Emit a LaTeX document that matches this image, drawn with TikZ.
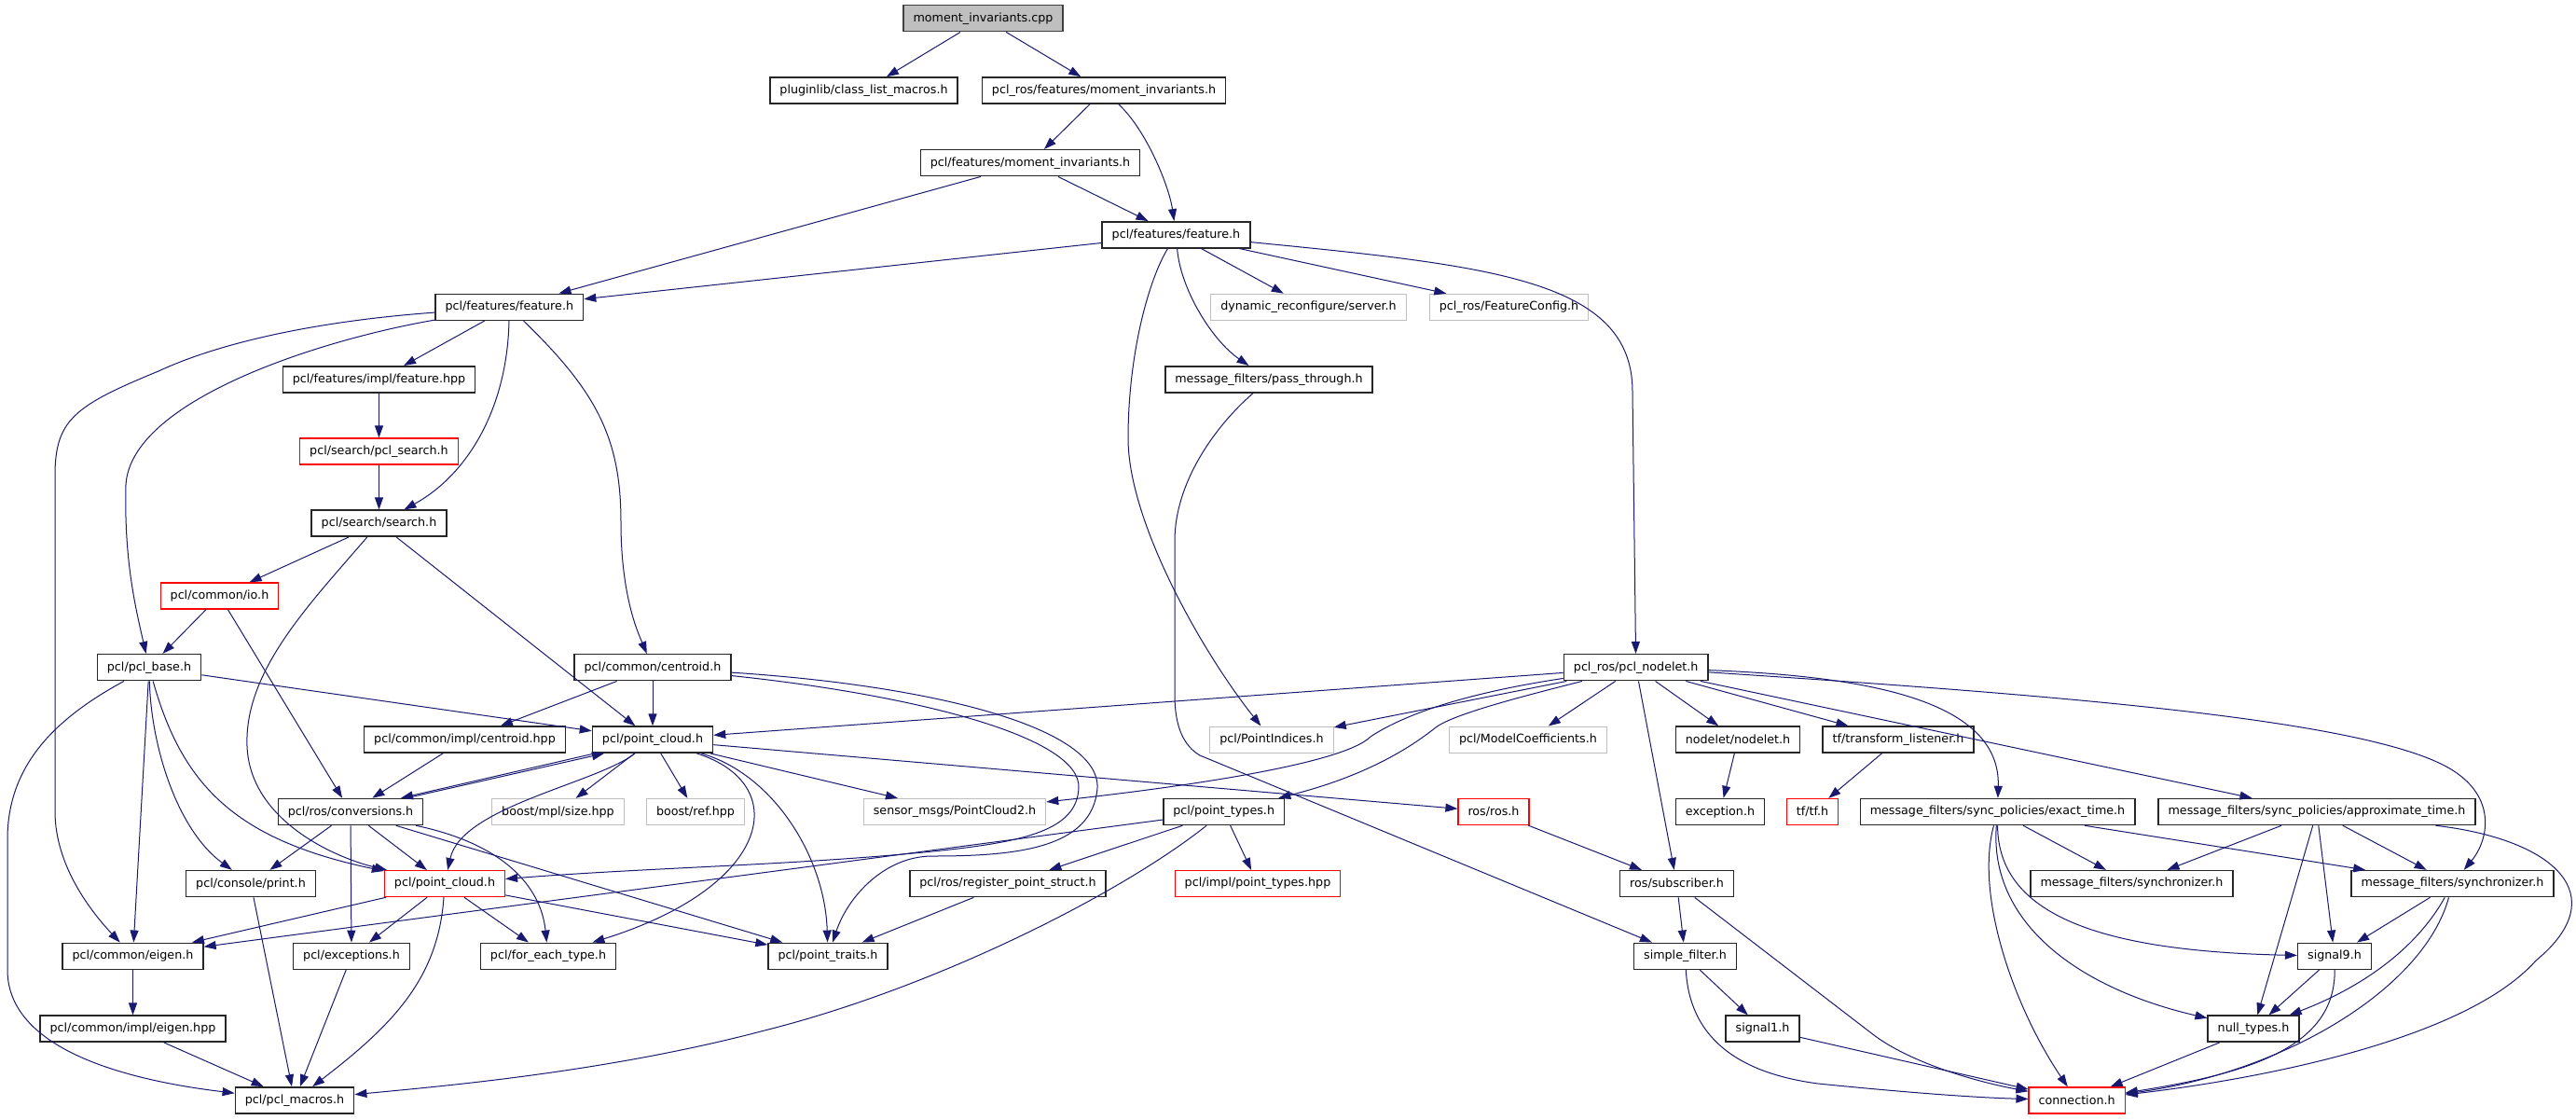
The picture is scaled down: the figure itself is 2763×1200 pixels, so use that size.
\documentclass[tikz,border=0pt]{standalone}
\usepackage{fontspec}
\setmainfont{DejaVu Sans}
\usetikzlibrary{arrows.meta}

\definecolor{depblue}{HTML}{191970}
\definecolor{hdrgray}{HTML}{BFBFBF}

\begin{document}
\begin{tikzpicture}[
    x=1pt, y=-1pt,
    every node/.style={font=\fontsize{12.7}{15}\selectfont, inner xsep=10.5pt, inner ysep=0pt,
                       minimum height=28pt, fill=white},
    hdrbox/.style={draw=black!85, line width=1.5pt},
    hdrred/.style={draw=red, line width=1.2pt},
    hdrgrey/.style={draw=hdrgray, line width=1.2pt},
    hdrroot/.style={draw=black!75, line width=1.5pt, fill=hdrgray},
    dep/.style={draw=depblue, line width=1pt, -{Triangle[length=13pt, width=9pt]}},
]

\fill[white] (0,0) rectangle (2763,1200);
\useasboundingbox (0,0) rectangle (2763,1200);

% === Top of the graph ===
\node[hdrroot] (cpp) at (1054.5,19.7) {moment\_invariants.cpp};
\node[hdrbox] (clm) at (926.5,97) {pluginlib/class\_list\_macros.h};
\node[hdrbox] (rosmi) at (1184,97) {pcl\_ros/features/moment\_invariants.h};
\node[hdrbox] (pclmi) at (1105,174.7) {pcl/features/moment\_invariants.h};
\node[hdrbox] (featR) at (1261.5,251.8) {pcl/features/feature.h};
\node[hdrgrey] (dynsrv) at (1403.5,329.3) {dynamic\_reconfigure/server.h};
\node[hdrgrey] (featcfg) at (1618.5,329.3) {pcl\_ros/FeatureConfig.h};
\node[hdrbox] (featL) at (546.3,329.3) {pcl/features/feature.h};
\node[hdrbox] (passthr) at (1361,406.8) {message\_filters/pass\_through.h};
\node[hdrbox] (featimpl) at (406.5,406.8) {pcl/features/impl/feature.hpp};
\node[hdrred] (pclsearch) at (406.5,484) {pcl/search/pcl\_search.h};
\node[hdrbox] (search) at (406.5,561.2) {pcl/search/search.h};
\node[hdrred] (io) at (235.5,638.9) {pcl/common/io.h};

% === pcl core headers ===
\node[hdrbox] (pclbase) at (160,715.7) {pcl/pcl\_base.h};
\node[hdrbox] (centroid) at (700,715.7) {pcl/common/centroid.h};
\node[hdrbox] (centroidimpl) at (498.5,793.1) {pcl/common/impl/centroid.hpp};
\node[hdrbox] (cloudb) at (700,793.1) {pcl/point\_cloud.h};
\node[hdrbox] (conv) at (376,870.5) {pcl/ros/conversions.h};
\node[hdrgrey] (mplsize) at (598.5,870.5) {boost/mpl/size.hpp};
\node[hdrgrey] (boostref) at (746,870.5) {boost/ref.hpp};
\node[hdrbox] (print) at (269,947.6) {pcl/console/print.h};
\node[hdrred] (cloudr) at (477,947.6) {pcl/point\_cloud.h};
\node[hdrbox] (eigen) at (142.5,1025.3) {pcl/common/eigen.h};
\node[hdrbox] (except) at (377,1025.3) {pcl/exceptions.h};
\node[hdrbox] (foreach) at (588,1025.3) {pcl/for\_each\_type.h};
\node[hdrbox] (traits) at (888,1025.3) {pcl/point\_traits.h};
\node[hdrbox] (eigenimpl) at (142.5,1103.2) {pcl/common/impl/eigen.hpp};
\node[hdrbox] (macros) at (316,1179.9) {pcl/pcl\_macros.h};

% === pcl_ros nodelet side ===
\node[hdrbox] (nodeletp) at (1754.7,715.7) {pcl\_ros/pcl\_nodelet.h};
\node[hdrgrey] (ptind) at (1364,793.1) {pcl/PointIndices.h};
\node[hdrgrey] (modcoef) at (1639,793.1) {pcl/ModelCoefficients.h};
\node[hdrbox] (nodelet) at (1864,793.1) {nodelet/nodelet.h};
\node[hdrbox] (tflisten) at (2036,793.1) {tf/transform\_listener.h};
\node[hdrgrey] (pc2msg) at (1024,870.5) {sensor\_msgs/PointCloud2.h};
\node[hdrbox] (ptypes) at (1312.7,870.5) {pcl/point\_types.h};
\node[hdrred] (rosh) at (1602,870.5) {ros/ros.h};
\node[hdrbox] (exceptionh) at (1845,870.5) {exception.h};
\node[hdrred] (tfh) at (1944,870.5) {tf/tf.h};
\node[hdrbox] (exact) at (2142.5,870.5) {message\_filters/sync\_policies/exact\_time.h};
\node[hdrbox] (approx) at (2485,870.5) {message\_filters/sync\_policies/approximate\_time.h};
\node[hdrbox] (regstruct) at (1081,947.6) {pcl/ros/register\_point\_struct.h};
\node[hdrred] (ptypesimpl) at (1349,947.6) {pcl/impl/point\_types.hpp};
\node[hdrbox] (subscr) at (1798.5,947.6) {ros/subscriber.h};
\node[hdrbox] (syncA) at (2286.5,947.6) {message\_filters/synchronizer.h};
\node[hdrbox] (syncB) at (2630.5,947.6) {message\_filters/synchronizer.h};
\node[hdrbox] (simplef) at (1807.5,1025.3) {simple\_filter.h};
\node[hdrbox] (sig9) at (2504,1025.3) {signal9.h};
\node[hdrbox] (sig1) at (1890.5,1103.2) {signal1.h};
\node[hdrbox] (nulltypes) at (2417,1103.2) {null\_types.h};
\node[hdrred] (conn) at (2227.6,1179.9) {connection.h};

% === Includes from the top ===
\draw[dep] (cpp) -- (clm);
\draw[dep] (cpp) -- (rosmi);
\draw[dep] (rosmi) -- (pclmi);
\draw[dep] (rosmi) .. controls (1230,140) and (1254,200) .. (featR);
\draw[dep] (pclmi) -- (featL);
\draw[dep] (pclmi) -- (featR);
\draw[dep] (featR) -- (featL);
\draw[dep] (featR) -- (dynsrv);
\draw[dep] (featR) -- (featcfg);
\draw[dep] (featR) .. controls (1266,310) and (1300,365) .. (passthr);
\draw[dep] (featR) .. controls (1232,300) and (1210,380) .. (1210,470)
    .. controls (1210,560) and (1290,700) .. (ptind);
\draw[dep] (featR) .. controls (1600,285) and (1751,300) .. (1751,420) -- (nodeletp);

% === Left feature.h ===
\draw[dep] (featL) -- (featimpl);
\draw[dep] (featL) .. controls (544,440) and (500,510) .. (search);
\draw[dep] (featL) .. controls (640,420) and (666,470) .. (666,560)
    .. controls (666,640) and (685,680) .. (centroid);
\draw[dep] (featL) .. controls (330,345) and (230,370) .. (170,398)
    .. controls (80,435) and (59,450) .. (59,510) -- (59,870)
    .. controls (59,930) and (100,980) .. (eigen);
\draw[dep] (featL) .. controls (340,365) and (140,430) .. (135,520)
    .. controls (133,600) and (145,650) .. (pclbase);
\draw[dep] (featimpl) -- (pclsearch);
\draw[dep] (pclsearch) -- (search);
\draw[dep] (search) -- (io);
\draw[dep] (search) .. controls (330,650) and (262,720) .. (265,800)
    .. controls (268,880) and (360,920) .. (cloudr);
\draw[dep] (search) -- (cloudb);
\draw[dep] (io) -- (pclbase);
\draw[dep] (io) -- (conv);

% === pcl_base.h and centroid.h ===
\draw[dep] (pclbase) -- (cloudb);
\draw[dep] (pclbase) .. controls (60,770) and (8,820) .. (8,900) -- (8,1040)
    .. controls (8,1130) and (150,1160) .. (macros);
\draw[dep] (pclbase) .. controls (162,800) and (190,890) .. (print);
\draw[dep] (pclbase) .. controls (195,840) and (250,900) .. (cloudr);
\draw[dep] (pclbase) -- (eigen);
\draw[dep] (centroid) -- (centroidimpl);
\draw[dep] (centroid) -- (cloudb);
\draw[dep] (centroid) .. controls (1000,735) and (1180,780) .. (1177,845)
    .. controls (1172,910) and (1090,918) .. (1000,918)
    .. controls (950,918) and (910,960) .. (traits);
\draw[dep] (centroid) .. controls (980,745) and (1160,790) .. (1157,845)
    .. controls (1155,890) and (1100,903) .. (1000,913)
    .. controls (850,928) and (700,930) .. (cloudr);
\draw[dep] (centroidimpl) -- (conv);

% === point_cloud.h and conversions.h ===
\draw[dep] ([xshift=60pt]conv.north) -- ([xshift=-52pt]cloudb.south);
\draw[dep] ([xshift=-62pt]cloudb.south) -- ([xshift=54pt]conv.north);
\draw[dep] (cloudb) .. controls (640,840) and (495,865) .. (cloudr);
\draw[dep] (cloudb) -- (mplsize);
\draw[dep] (cloudb) -- (boostref);
\draw[dep] (cloudb) .. controls (850,840) and (830,950) .. (foreach);
\draw[dep] (cloudb) .. controls (830,830) and (885,920) .. (traits);
\draw[dep] (cloudb) -- (pc2msg);
\draw[dep] (cloudb) -- (rosh);
\draw[dep] (conv) -- (print);
\draw[dep] (conv) -- (cloudr);
\draw[dep] (conv) -- (except);
\draw[dep] (conv) .. controls (540,905) and (580,950) .. (foreach);
\draw[dep] (conv) -- (traits);
\draw[dep] (print) -- (macros);
\draw[dep] (cloudr) -- (eigen);
\draw[dep] (cloudr) -- (except);
\draw[dep] (cloudr) -- (foreach);
\draw[dep] (cloudr) -- (traits);
\draw[dep] (cloudr) .. controls (470,1050) and (420,1100) .. (macros);
\draw[dep] (eigen) -- (eigenimpl);
\draw[dep] (eigenimpl) -- (macros);
\draw[dep] (except) -- (macros);

% === point_types.h ===
\draw[dep] (ptypes) .. controls (1200,960) and (1000,1060) .. (820,1105)
    .. controls (650,1150) and (470,1165) .. (macros);
\draw[dep] (ptypes) -- (regstruct);
\draw[dep] (ptypes) -- (ptypesimpl);
\draw[dep] (ptypes) -- (eigen);
\draw[dep] (regstruct) -- (traits);

% === pcl_nodelet.h ===
\draw[dep] (nodeletp) -- (cloudb);
\draw[dep] (nodeletp) -- (ptind);
\draw[dep] (nodeletp) .. controls (1560,745) and (1500,770) .. (1470,790)
    .. controls (1440,820) and (1260,845) .. (pc2msg);
\draw[dep] (nodeletp) .. controls (1640,745) and (1560,765) .. (1540,780)
    .. controls (1490,820) and (1430,841) .. (ptypes);
\draw[dep] (nodeletp) -- (modcoef);
\draw[dep] (nodeletp) -- (nodelet);
\draw[dep] (nodeletp) -- (subscr);
\draw[dep] (nodeletp) -- (tflisten);
\draw[dep] (nodeletp) .. controls (2000,725) and (2146,750) .. (exact);
\draw[dep] (nodeletp) -- (approx);
\draw[dep] (nodeletp) .. controls (2200,745) and (2520,770) .. (2620,820)
    .. controls (2680,850) and (2670,900) .. (syncB);
\draw[dep] (nodelet) -- (exceptionh);
\draw[dep] (tflisten) -- (tfh);

% === ros and message_filters ===
\draw[dep] (rosh) -- (subscr);
\draw[dep] (subscr) -- (simplef);
\draw[dep] (subscr) -- (2010,1110) .. controls (2050,1140) and (2120,1160) .. (conn);
\draw[dep] (passthr) .. controls (1300,460) and (1260,520) .. (1260,580) -- (1260,745)
    .. controls (1260,780) and (1270,800) .. (1287,810) -- (simplef);
\draw[dep] (simplef) -- (sig1);
\draw[dep] (simplef) .. controls (1812,1110) and (1860,1150) .. (1950,1162)
    .. controls (2050,1172) and (2120,1177) .. (conn);
\draw[dep] (sig1) -- (conn);
\draw[dep] (exact) -- (syncA);
\draw[dep] (exact) -- (syncB);
\draw[dep] (exact) .. controls (2143,980) and (2250,1020) .. (sig9);
\draw[dep] (exact) .. controls (2133,990) and (2230,1060) .. (nulltypes);
\draw[dep] (exact) .. controls (2118,960) and (2160,1080) .. (conn);
\draw[dep] (approx) -- (syncA);
\draw[dep] (approx) -- (syncB);
\draw[dep] (approx) -- (sig9);
\draw[dep] (approx) -- (nulltypes);
\draw[dep] (approx) .. controls (2740,900) and (2805,960) .. (2720,1030)
    .. controls (2640,1120) and (2400,1160) .. (conn);
\draw[dep] (syncB) -- (sig9);
\draw[dep] (syncB) .. controls (2590,1020) and (2530,1060) .. (nulltypes);
\draw[dep] (syncB) .. controls (2600,1060) and (2450,1150) .. (conn);
\draw[dep] (sig9) -- (nulltypes);
\draw[dep] (sig9) .. controls (2505,1120) and (2420,1150) .. (conn);
\draw[dep] (nulltypes) -- (conn);

\end{tikzpicture}
\end{document}
